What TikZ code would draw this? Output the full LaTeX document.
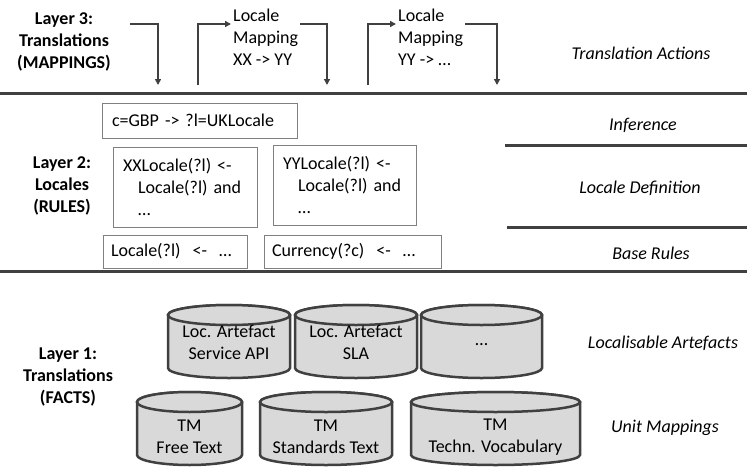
\documentclass[tikz,border=0pt]{standalone}
\usepackage{fontspec}
\setmainfont{Carlito}
\usepackage{tikz}
\usetikzlibrary{arrows.meta}
\definecolor{linegray}{RGB}{64,64,64}
\definecolor{boxgray}{RGB}{128,128,128}
\definecolor{cylfill}{RGB}{217,217,217}

% drum: left x, top y, width, height
\newcommand{\drum}[4]{%
	\filldraw[drum] (#1,#2+10) -- (#1,#2+#4-10)
		arc[start angle=180, end angle=0, x radius=#3/2, y radius=10]
		-- (#1+#3,#2+10)
		arc[start angle=0, end angle=-180, x radius=#3/2, y radius=10] -- cycle;
	\draw[drum] (#1+#3/2,#2+10) ellipse[x radius=#3/2, y radius=10];}

\begin{document}
\begin{tikzpicture}[x=1pt,y=-1pt,
		every node/.style={font=\fontsize{18}{22}\selectfont, inner sep=2pt},
		layer/.style={font=\fontsize{18}{22}\selectfont\bfseries, align=center},
		facet/.style={font=\fontsize{18}{22}\selectfont\itshape},
		sep/.style={line width=3pt, linegray},
		flow/.style={line width=1.5pt, linegray, -{Triangle[length=6pt,width=6pt]}},
		rulebox/.style={draw=boxgray, line width=1pt, align=left, inner xsep=10pt},
		drum/.style={draw=linegray, fill=cylfill, line width=2.5pt},
		drumtext/.style={align=center}]
	\useasboundingbox (0,0) rectangle (747,466);
	
	% Layer separators
	\draw[sep] (0,93) -- (747,93);
	\draw[sep] (0,271) -- (747,271);
	\draw[sep] (505,145) -- (747,145);
	\draw[sep] (507,227) -- (747,227);
	
	% Layer 3: mappings
	\node[layer] (l3) at (64,42) {Layer 3:\\Translations\\(MAPPINGS)};
	\node[align=left, anchor=west] (map1) at (231,37) {Locale\\Mapping\\XX -> YY};
	\node[align=left, anchor=west] (map2) at (396,37) {Locale\\Mapping\\YY -> …};
	\node[facet] (actions) at (641,53) {Translation Actions};
	
	\coordinate (a1) at (130,24);
	\coordinate (b1) at (158,85);
	\coordinate (u1) at (198,85);
	\coordinate (b2) at (327,85);
	\coordinate (u2) at (368,85);
	\coordinate (b3) at (497,85);
	\draw[flow] (a1) -| (b1);
	\draw[flow] (u1) |- (map1.west |- a1);
	\draw[flow] (map1.east |- a1) -| (b2);
	\draw[flow] (u2) |- (map2.west |- a1);
	\draw[flow] (map2.east |- a1) -| (b3);
	
	% Layer 2: rules
	\node[layer] (l2) at (62,186) {Layer 2:\\Locales\\(RULES)};
	\node[rulebox, text width=175pt, minimum height=35pt] (infer) at (199.5,120.5) {c=GBP -> ?l=UKLocale};
	\node[rulebox, text width=124pt, minimum height=80pt] (xxloc) at (185,187)
		{XXLocale(?l) <-\\\hspace*{15pt}Locale(?l) and\\\hspace*{15pt}…};
	\node[rulebox, text width=123pt, minimum height=80pt] (yyloc) at (344.5,185)
		{YYLocale(?l) <-\\\hspace*{15pt}Locale(?l) and\\\hspace*{15pt}…};
	\node[rulebox, text width=128pt, minimum height=33pt, inner xsep=8pt] (base1) at (175,251.5) {Locale(?l)\ \ <-\ \ …};
	\node[rulebox, text width=161pt, minimum height=33pt, inner xsep=8pt] (base2) at (352.5,251.5) {Currency(?c)\ \ <-\ \ …};
	\node[facet] (inference) at (643,125) {Inference};
	\node[facet] (localedef) at (640,188) {Locale Definition};
	\node[facet] (baserules) at (651,253) {Base Rules};
	
	% Layer 1: facts
	\node[layer] (l1) at (68,377) {Layer 1:\\Translations\\(FACTS)};
	\drum{168}{305}{122}{73}
	\drum{295}{305}{122}{73}
	\drum{421}{305}{121}{73}
	\drum{137}{392}{105}{73}
	\drum{260}{392}{132}{73}
	\drum{411}{392}{169}{73}
	\node[drumtext] (art1) at (229,342.5) {Loc. Artefact\\Service API};
	\node[drumtext] (art2) at (356,342.5) {Loc. Artefact\\SLA};
	\node[drumtext] (art3) at (481.5,345) {…};
	\node[drumtext] (tm1) at (189.5,437) {TM\\Free Text};
	\node[drumtext] (tm2) at (326,437) {TM\\Standards Text};
	\node[drumtext] (tm3) at (495.5,437) {TM\\Techn. Vocabulary};
	\node[facet] (artefacts) at (663,343) {Localisable Artefacts};
	\node[facet] (units) at (665,428) {Unit Mappings};
\end{tikzpicture}
\end{document}
